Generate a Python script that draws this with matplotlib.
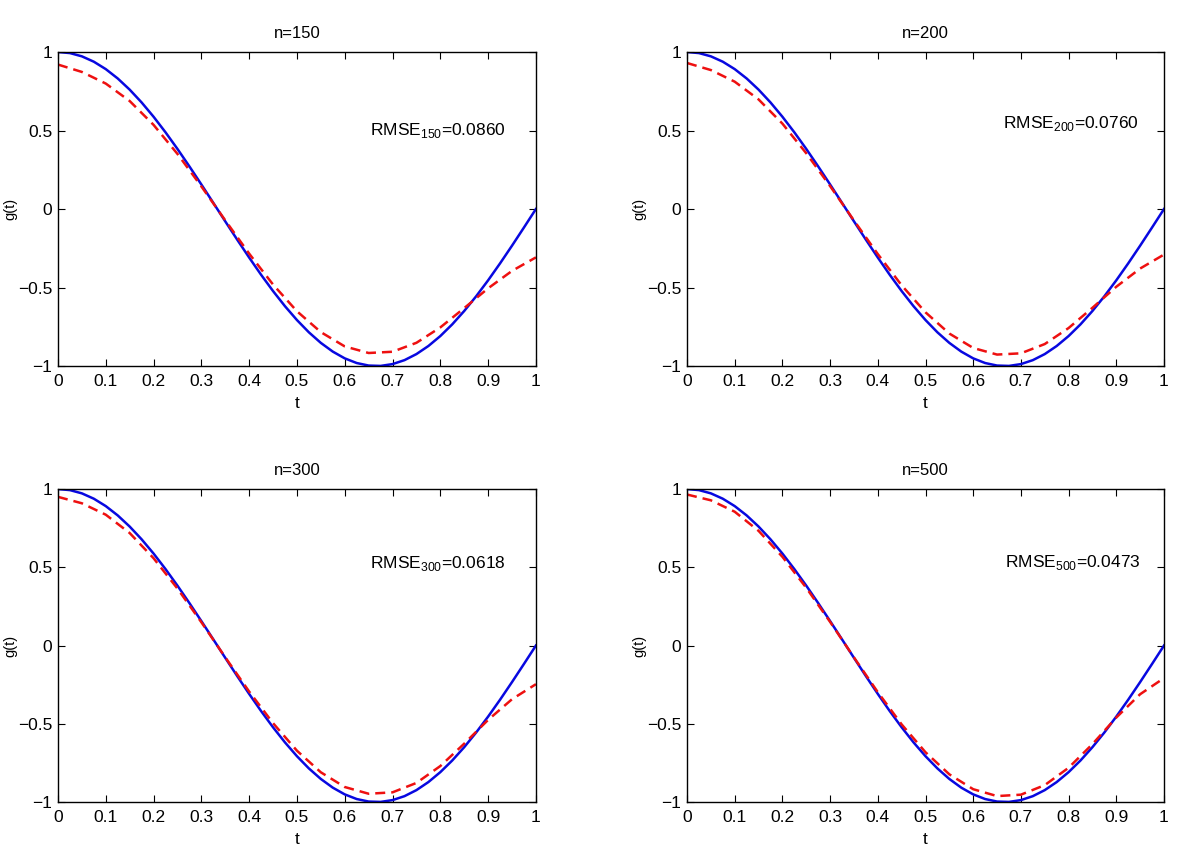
import matplotlib
matplotlib.use('Agg')
import matplotlib.pyplot as plt

plt.rcParams['font.family'] = ['Liberation Sans', 'DejaVu Sans']
plt.rcParams['mathtext.fontset'] = 'custom'
plt.rcParams['mathtext.rm'] = 'Liberation Sans'

# true curve g(t)
t_true = [0.0, 0.025, 0.05, 0.075, 0.1, 0.125, 0.15, 0.175, 0.2, 0.225,
          0.25, 0.275, 0.3, 0.325, 0.35, 0.375, 0.4, 0.425, 0.45, 0.475,
          0.5, 0.525, 0.55, 0.575, 0.6, 0.625, 0.65, 0.675, 0.7, 0.725,
          0.75, 0.775, 0.8, 0.825, 0.85, 0.875, 0.9, 0.925, 0.95, 0.975, 1.0]
g_true = [1.0, 0.9931, 0.9724, 0.9382, 0.891, 0.8315, 0.7604, 0.6788, 0.5878, 0.4886,
          0.3827, 0.2714, 0.1564, 0.0393, -0.0785, -0.1951, -0.309, -0.4187, -0.5225, -0.6191,
          -0.7071, -0.7853, -0.8526, -0.9081, -0.9511, -0.9808, -0.9969, -0.9992, -0.9877, -0.9625,
          -0.9239, -0.8725, -0.809, -0.7343, -0.6494, -0.5556, -0.454, -0.3461, -0.2334, -0.1175, 0.0]

# estimates (red dashed), one per sample size
t_est = [0.0, 0.05, 0.1, 0.15, 0.2, 0.25, 0.3, 0.35, 0.4, 0.45, 0.5,
         0.55, 0.6, 0.65, 0.7, 0.75, 0.8, 0.85, 0.9, 0.95, 1.0]
g_150 = [0.920, 0.873, 0.799, 0.688, 0.536, 0.351, 0.144, -0.072, -0.284, -0.481, -0.651,
         -0.784, -0.875, -0.917, -0.909, -0.852, -0.754, -0.631, -0.505, -0.394, -0.308]
g_200 = [0.930, 0.885, 0.811, 0.698, 0.544, 0.355, 0.146, -0.073, -0.287, -0.486, -0.658,
         -0.793, -0.885, -0.927, -0.919, -0.860, -0.758, -0.629, -0.495, -0.379, -0.290]
g_300 = [0.950, 0.909, 0.836, 0.719, 0.558, 0.364, 0.149, -0.075, -0.294, -0.496, -0.672,
         -0.810, -0.904, -0.947, -0.938, -0.878, -0.770, -0.627, -0.475, -0.343, -0.247]
g_500 = [0.965, 0.928, 0.855, 0.733, 0.567, 0.369, 0.151, -0.076, -0.298, -0.504, -0.682,
         -0.823, -0.918, -0.962, -0.953, -0.892, -0.781, -0.630, -0.460, -0.311, -0.208]

sizes = ['150', '200', '300', '500']
rmse = ['0.0860', '0.0760', '0.0618', '0.0473']
estimates = [g_150, g_200, g_300, g_500]

xticks = [0, 0.1, 0.2, 0.3, 0.4, 0.5, 0.6, 0.7, 0.8, 0.9, 1]
xticklabels = ['0', '0.1', '0.2', '0.3', '0.4', '0.5', '0.6', '0.7', '0.8', '0.9', '1']
yticks = [-1, -0.5, 0, 0.5, 1]
yticklabels = ['\u22121', '\u22120.5', '0', '0.5', '1']

# panel boxes [left, bottom, width, height] in figure fractions
boxes = [[0.0483, 0.5783, 0.3983, 0.3618],
         [0.5725, 0.5783, 0.3975, 0.3618],
         [0.0483, 0.0760, 0.3983, 0.3606],
         [0.5725, 0.0760, 0.3975, 0.3606]]
text_pos = [(0.653, 0.47), (0.662, 0.515), (0.653, 0.495), (0.666, 0.50)]

fig = plt.figure(figsize=(12, 8.68), dpi=100)

for i in range(4):
    ax = fig.add_axes(boxes[i])
    ax.plot(t_true, g_true, color='#0808e0', lw=1.8, solid_joinstyle='round')
    ax.plot(t_est, estimates[i], color='#ee1010', lw=1.8, linestyle=(0, (4.0, 2.4)))
    ax.set_xlim(0, 1)
    ax.set_ylim(-1, 1)
    ax.set_xticks(xticks)
    ax.set_xticklabels(xticklabels)
    ax.set_yticks(yticks)
    ax.set_yticklabels(yticklabels)
    ax.tick_params(direction='in', top=True, right=True, length=5, width=0.8,
                   labelsize=12.5)
    ax.tick_params(axis='x', pad=6)
    ax.tick_params(axis='y', pad=4)
    for sp in ax.spines.values():
        sp.set_linewidth(1.0)
    ax.set_title('n=' + sizes[i], fontsize=12, pad=10)
    ax.set_xlabel('t', fontsize=12.5, labelpad=5)
    ax.set_ylabel('g(t)', fontsize=10.5)
    ax.yaxis.set_label_coords(-0.085, 0.5)
    x0, y0 = text_pos[i]
    ax.text(x0, y0, 'RMSE$_{' + sizes[i] + '}$=' + rmse[i], fontsize=12.5,
            ha='left', va='baseline')

fig.savefig('out.png', dpi=100)
